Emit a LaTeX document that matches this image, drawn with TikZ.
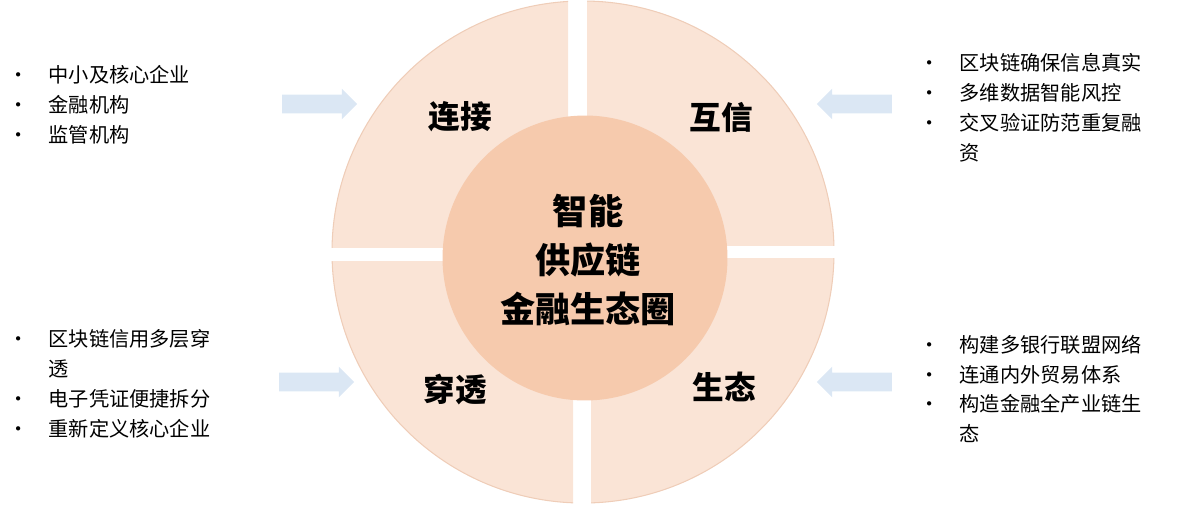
\documentclass[tikz,border=0pt]{standalone}
\usepackage{fontspec}
\setmainfont{Noto Sans CJK SC}
\usetikzlibrary{shapes.arrows,positioning}
\definecolor{sectfill}{HTML}{FAE4D6}
\definecolor{sectline}{HTML}{EFCDB8}
\definecolor{hubfill}{HTML}{F6CAAD}
\definecolor{arrowfill}{HTML}{DBE7F4}
\tikzset{
  quad/.style={fill=sectfill,draw=sectline,line width=0.6pt},
  tag/.style={font=\fontsize{18}{20}\selectfont\bfseries},
  item/.style={anchor=west,font=\fontsize{11.5}{17}\selectfont,align=left,inner sep=0pt},
  push/.style={single arrow,fill=arrowfill,minimum height=1.5cm,minimum width=0.6cm,
    single arrow head extend=0.12cm,inner xsep=0pt,inner ysep=0.18cm}
}
\begin{document}
\begin{tikzpicture}[x=0.02cm,y=-0.02cm]
\useasboundingbox (0,0) rectangle (1202,505);
% quarter sectors
\begin{scope}\clip (0,0) rectangle (568,247);
\draw[quad] (583,252) circle[radius=251];\end{scope}
\begin{scope}\clip (587,0) rectangle (1202,245);
\draw[quad] (583,252) circle[radius=251];\end{scope}
\begin{scope}\clip (0,261) rectangle (573,505);
\draw[quad] (583,252) circle[radius=251];\end{scope}
\begin{scope}\clip (591,258) rectangle (1202,505);
\draw[quad] (583,252) circle[radius=251];\end{scope}
% hub
\node[circle,fill=hubfill,minimum size=5.7cm] (hub) at (585,258) {};
\node[tag,font=\fontsize{20}{24}\selectfont\bfseries,align=center] (hubtext) at (588,260)
  {智能\\[4pt]供应链\\[4pt]金融生态圈};
\node[tag] (link) at (460,117) {连接};
\node[tag] (trust) at (721,117) {互信};
\node[tag] (pierce) at (455,390) {穿透};
\node[tag] (eco) at (724,387) {生态};
% arrows
\node[push] (arrTL) at (315,104) {};
\node[push] (arrBL) at (312,382) {};
\node[push,shape border rotate=180] (arrTR) at (859,104) {};
\node[push,shape border rotate=180] (arrBR) at (859,382) {};
% lists
\node[item] (listTL) at (8,105) {•\quad 中小及核心企业\\•\quad 金融机构\\•\quad 监管机构};
\node[item] (listTR) at (919,108) {•\quad 区块链确保信息真实\\•\quad 多维数据智能风控\\•\quad 交叉验证防范重复融\\\phantom{•\quad }资};
\node[item] (listBL) at (8,384) {•\quad 区块链信用多层穿\\\phantom{•\quad }透\\•\quad 电子凭证便捷拆分\\•\quad 重新定义核心企业};
\node[item] (listBR) at (919,389) {•\quad 构建多银行联盟网络\\•\quad 连通内外贸易体系\\•\quad 构造金融全产业链生\\\phantom{•\quad }态};
\end{tikzpicture}
\end{document}
